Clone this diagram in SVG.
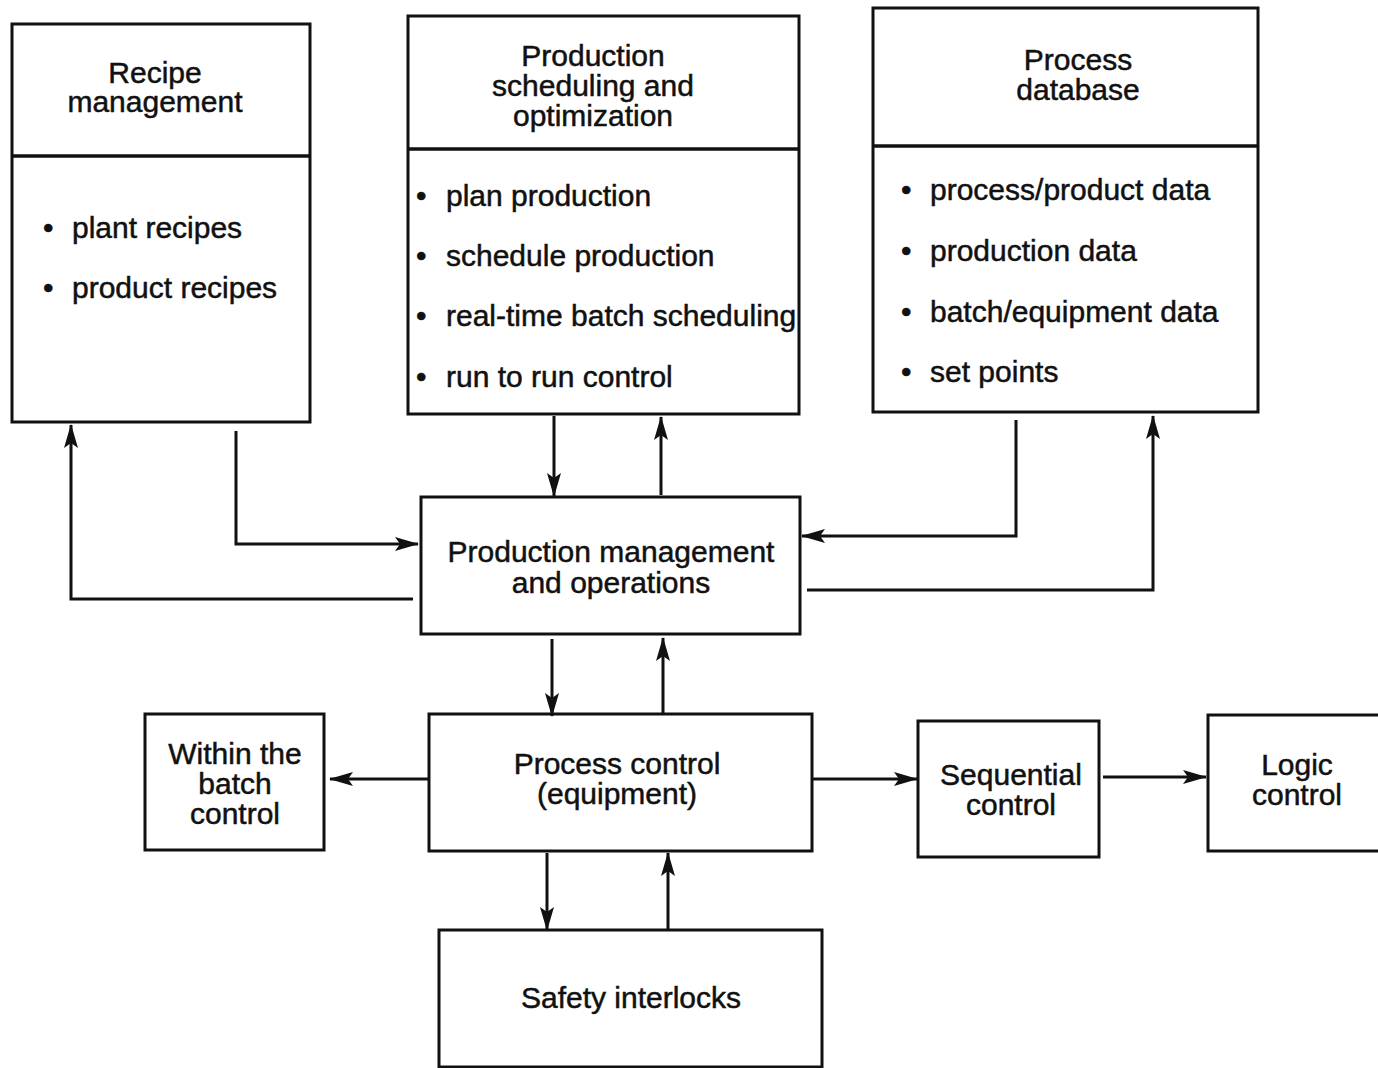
<svg xmlns="http://www.w3.org/2000/svg" width="1378" height="1068" viewBox="0 0 1378 1068">
<style>
.box{fill:#fff;stroke:#111;stroke-width:3}
.div{stroke:#111;stroke-width:3.5}
text{font-family:"Liberation Sans",Arial,sans-serif;font-size:30px;fill:#111;stroke:#111;stroke-width:0.5}
.c{text-anchor:middle}
.ln{fill:none;stroke:#111;stroke-width:3}
</style>
<defs>
<marker id="ah" markerUnits="userSpaceOnUse" markerWidth="24" markerHeight="14" refX="23" refY="7" orient="auto">
<path d="M0,0 L24,7 L0,14 L5,7 Z" fill="#111"/>
</marker>
</defs>
<rect width="1378" height="1068" fill="#fff"/>
<g id="recipe">
<rect class="box" x="12" y="24" width="298" height="398"/>
<line class="div" x1="12" y1="156" x2="310" y2="156"/>
<text class="c" x="155" y="83">Recipe</text>
<text class="c" x="155" y="112">management</text>
<text x="43" y="238">•</text><text x="72" y="238">plant recipes</text>
<text x="43" y="298">•</text><text x="72" y="298">product recipes</text>
</g>
<g id="scheduling">
<rect class="box" x="408" y="16" width="391" height="398"/>
<line class="div" x1="408" y1="149" x2="799" y2="149"/>
<text class="c" x="593" y="66">Production</text>
<text class="c" x="593" y="96">scheduling and</text>
<text class="c" x="593" y="126">optimization</text>
<text x="416" y="206">•</text><text x="446" y="206">plan production</text>
<text x="416" y="266">•</text><text x="446" y="266">schedule production</text>
<text x="416" y="326">•</text><text x="446" y="326">real-time batch scheduling</text>
<text x="416" y="387">•</text><text x="446" y="387">run to run control</text>
</g>
<g id="database">
<rect class="box" x="873" y="8" width="385" height="404"/>
<line class="div" x1="873" y1="146" x2="1258" y2="146"/>
<text class="c" x="1078" y="70">Process</text>
<text class="c" x="1078" y="100">database</text>
<text x="901" y="200">•</text><text x="930" y="200">process/product data</text>
<text x="901" y="261">•</text><text x="930" y="261">production data</text>
<text x="901" y="322">•</text><text x="930" y="322">batch/equipment data</text>
<text x="901" y="382">•</text><text x="930" y="382">set points</text>
</g>
<g id="prodmgmt">
<rect class="box" x="421" y="497" width="379" height="137"/>
<text class="c" x="611" y="562">Production management</text>
<text class="c" x="611" y="593">and operations</text>
</g>
<g id="processcontrol">
<rect class="box" x="429" y="714" width="383" height="137"/>
<text class="c" x="617" y="774">Process control</text>
<text class="c" x="617" y="804">(equipment)</text>
</g>
<g id="withinbatch">
<rect class="box" x="145" y="714" width="179" height="136"/>
<text class="c" x="235" y="764">Within the</text>
<text class="c" x="235" y="794">batch</text>
<text class="c" x="235" y="824">control</text>
</g>
<g id="sequential">
<rect class="box" x="918" y="721" width="181" height="136"/>
<text class="c" x="1011" y="785">Sequential</text>
<text class="c" x="1011" y="815">control</text>
</g>
<g id="logic">
<rect class="box" x="1208" y="715" width="175" height="136"/>
<text class="c" x="1297" y="775">Logic</text>
<text class="c" x="1297" y="805">control</text>
</g>
<g id="safety">
<rect class="box" x="439" y="930" width="383" height="137"/>
<text class="c" x="631" y="1008">Safety interlocks</text>
</g>
<g id="connectors">
<path class="ln" d="M236,431 V544 H418" marker-end="url(#ah)"/>
<path class="ln" d="M413,599 H71 V425" marker-end="url(#ah)"/>
<path class="ln" d="M554,416 V496" marker-end="url(#ah)"/>
<path class="ln" d="M661,495 V417" marker-end="url(#ah)"/>
<path class="ln" d="M1016,420 V536 H802" marker-end="url(#ah)"/>
<path class="ln" d="M807,590 H1153 V416" marker-end="url(#ah)"/>
<path class="ln" d="M552,639 V716" marker-end="url(#ah)"/>
<path class="ln" d="M663,713 V638" marker-end="url(#ah)"/>
<path class="ln" d="M428,779 H330" marker-end="url(#ah)"/>
<path class="ln" d="M812,779 H917" marker-end="url(#ah)"/>
<path class="ln" d="M1103,777 H1206" marker-end="url(#ah)"/>
<path class="ln" d="M547,853 V930" marker-end="url(#ah)"/>
<path class="ln" d="M668,929 V853" marker-end="url(#ah)"/>
</g>
</svg>
